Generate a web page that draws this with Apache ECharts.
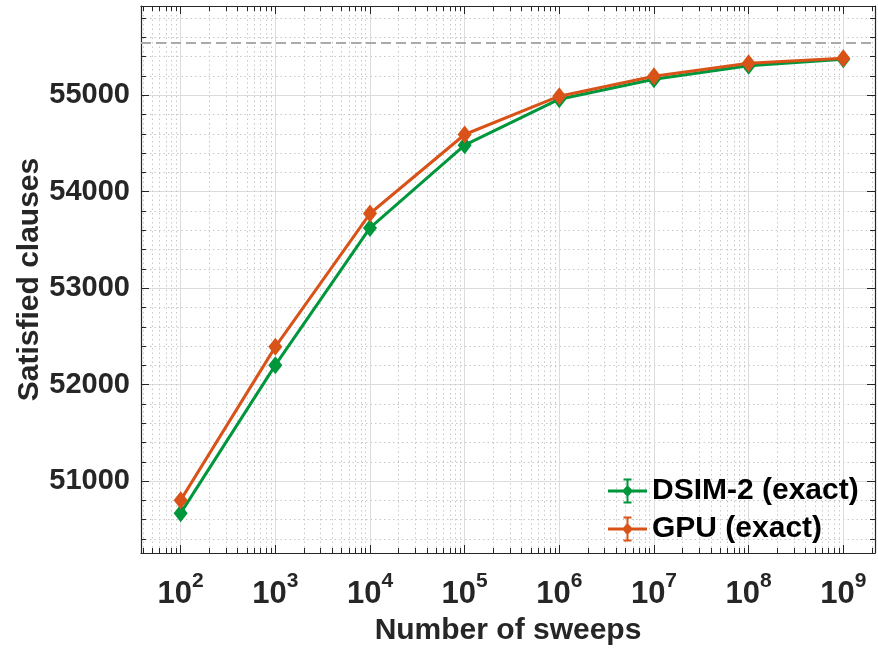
<!DOCTYPE html>
<html>
<head>
<meta charset="utf-8">
<script src="https://cdn.jsdelivr.net/npm/echarts@6/dist/echarts.min.js"></script>
<style>
html,body{margin:0;padding:0;background:#fff;}
#chart{width:878px;height:649px;}
</style>
</head>
<body>
<div id="chart"></div>
<script>
// data
var sweeps=[1e2,1e3,1e4,1e5,1e6,1e7,1e8,1e9];
var dsim=[50668,52202,53625,54482,54959,55166,55305,55373];
var gpu=[50803,52392,53774,54593,54990,55197,55332,55383];
var upperBound=55540;
var seriesNames=['DSIM-2 (exact)','GPU (exact)'];

var xMinExp=1.581, xMaxExp=9.335;
var yMin=50255, yMax=55925;
var ink='#262626', green='#00963c', orange='#d95319';
var font='"Liberation Sans", Helvetica, Arial, sans-serif';

// log minor tick positions (in log10 space)
var minorX=[];
for(var k=1;k<=9;k++){
    for(var m=2;m<=9;m++){
        var v=Math.log10(m*Math.pow(10,k));
        if(v>xMinExp && v<xMaxExp) minorX.push(v);
    }
}
// legend icon: line + diamond + error bar
var icon='path://M0 11L39 11L39 14L0 14Z M18.5 0L20.5 0L20.5 25L18.5 25Z M15.5 0L23.5 0L23.5 2L15.5 2Z M15.5 23L23.5 23L23.5 25L15.5 25Z M19.5 6.5L25 12.5L19.5 18.5L14 12.5Z';

function pts(vals){
    return sweeps.map(function(s,i){return [s,vals[i]];});
}
var dotted={color:'#c8c8c8',width:1,type:[1.5,3]};
var major={color:'#dcdcdc',width:1};

var chart=echarts.init(document.getElementById('chart'));
chart.setOption({
    animation:false,
    backgroundColor:'#fff',
    grid:{left:141,right:3,top:6,bottom:96,containLabel:false,outerBoundsMode:'none'},
    xAxis:[
        {
            type:'log',logBase:10,position:'bottom',
            min:Math.pow(10,xMinExp),max:Math.pow(10,xMaxExp),
            axisLine:{show:true,lineStyle:{color:ink,width:1.2}},
            axisTick:{show:true,inside:true,length:8,lineStyle:{color:ink}},
            axisLabel:{
                showMinLabel:false,showMaxLabel:false,margin:18,
                formatter:function(v){return '{b|10}{s|'+Math.round(Math.log10(v))+'}';},
                rich:{
                    b:{fontSize:31,fontWeight:'bold',color:ink,fontFamily:font,lineHeight:46},
                    s:{fontSize:21,fontWeight:'bold',color:ink,fontFamily:font,lineHeight:16,verticalAlign:'top'}
                }
            },
            splitLine:{show:true,lineStyle:major},
            name:'Number of sweeps',nameLocation:'middle',nameGap:63,
            nameTextStyle:{fontSize:30,fontWeight:'bold',color:ink,fontFamily:font}
        },
        {
            type:'value',position:'bottom',min:xMinExp,max:xMaxExp,
            axisLine:{show:false},
            axisTick:{show:true,inside:true,length:5,customValues:minorX,lineStyle:{color:ink}},
            axisLabel:{show:false},
            splitLine:{show:true,lineStyle:dotted}
        },
        {
            type:'log',logBase:10,position:'top',
            min:Math.pow(10,xMinExp),max:Math.pow(10,xMaxExp),
            axisLine:{show:true,lineStyle:{color:ink,width:1.2}},
            axisTick:{show:true,inside:true,length:8,lineStyle:{color:ink}},
            axisLabel:{show:false},splitLine:{show:false}
        },
        {
            type:'value',position:'top',min:xMinExp,max:xMaxExp,
            axisLine:{show:false},
            axisTick:{show:true,inside:true,length:5,customValues:minorX,lineStyle:{color:ink}},
            axisLabel:{show:false},splitLine:{show:false}
        }
    ],
    yAxis:[
        {
            type:'value',position:'left',min:yMin,max:yMax,
            axisLine:{show:true,lineStyle:{color:ink,width:1.2}},
            axisTick:{show:true,inside:true,length:8,lineStyle:{color:ink}},
            minorTick:{show:true,splitNumber:5,length:5,lineStyle:{color:ink}},
            axisLabel:{
                showMinLabel:false,showMaxLabel:false,margin:11,
                fontSize:29,fontWeight:'bold',color:ink,fontFamily:font,
                formatter:function(v){return String(v);}
            },
            splitLine:{show:true,lineStyle:major},
            minorSplitLine:{show:true,lineStyle:dotted},
            name:'Satisfied clauses',nameLocation:'middle',nameGap:96,nameMoveOverlap:false,
            nameTextStyle:{fontSize:30,fontWeight:'bold',color:ink,fontFamily:font}
        },
        {
            type:'value',position:'right',min:yMin,max:yMax,
            axisLine:{show:true,lineStyle:{color:ink,width:1.2}},
            axisTick:{show:true,inside:true,length:8,lineStyle:{color:ink}},
            minorTick:{show:true,splitNumber:5,length:5,lineStyle:{color:ink}},
            axisLabel:{show:false},splitLine:{show:false}
        }
    ],
    legend:{
        orient:'vertical',left:608,top:476,padding:0,
        itemWidth:39,itemHeight:25,itemGap:8,
        itemStyle:{borderWidth:0},
        textStyle:{fontSize:30,fontWeight:'bold',color:'#000',fontFamily:font,lineHeight:25},
        data:[{name:seriesNames[0],icon:icon},{name:seriesNames[1],icon:icon}]
    },
    series:[
        {
            name:seriesNames[0],type:'line',xAxisIndex:0,yAxisIndex:0,
            data:pts(dsim),symbol:'diamond',symbolSize:[14,18],
            lineStyle:{width:3,color:green},itemStyle:{color:green},z:3,
            markLine:{
                silent:true,symbol:'none',label:{show:false},
                lineStyle:{color:'#aaaaaa',width:1.8,type:[10,5]},
                data:[{yAxis:upperBound}]
            }
        },
        {
            name:seriesNames[1],type:'line',xAxisIndex:0,yAxisIndex:0,
            data:pts(gpu),symbol:'diamond',symbolSize:[14,18],
            lineStyle:{width:3,color:orange},itemStyle:{color:orange},z:4
        }
    ]
});
</script>
</body>
</html>
